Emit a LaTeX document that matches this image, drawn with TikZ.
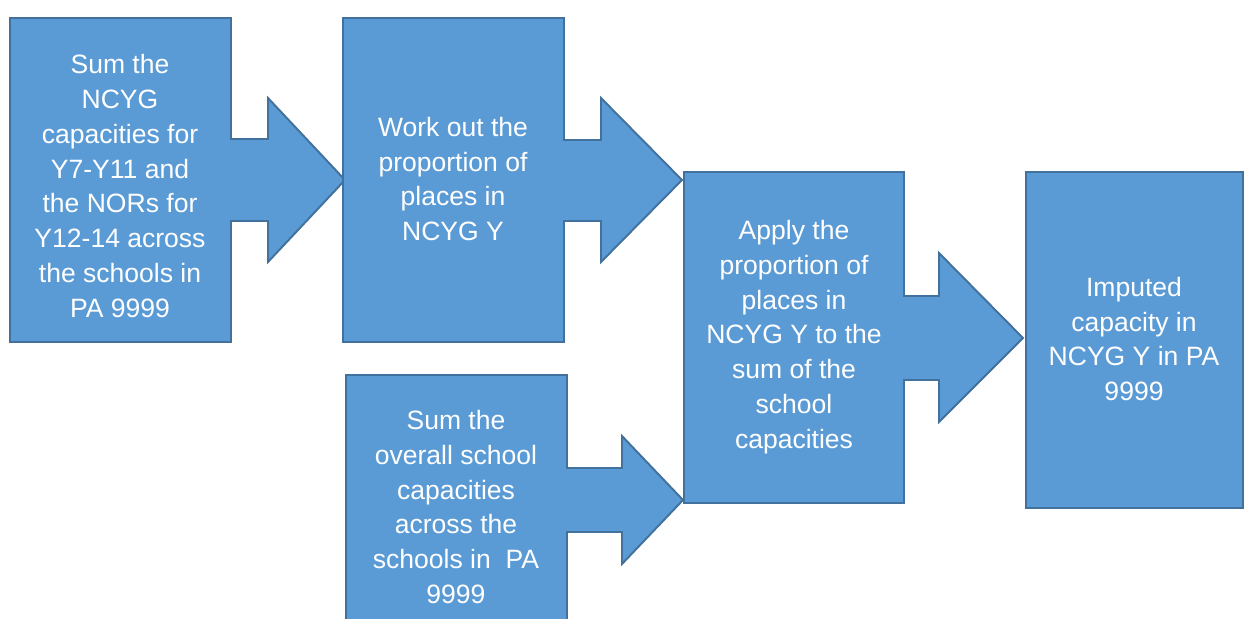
\documentclass[tikz,border=0pt]{standalone}
\usepackage{fontspec}
\setmainfont{Liberation Sans}
\definecolor{boxfill}{HTML}{5B9BD5}
\definecolor{boxline}{HTML}{41719C}
\tikzset{
  shapebox/.style={fill=boxfill, draw=boxline, line width=1.1pt, line join=miter},
  boxtext/.style={text=white, align=center, inner sep=0pt,
    font=\fontsize{15.1}{19.8}\selectfont}
}
\begin{document}
\begin{tikzpicture}[x=0.02cm, y=-0.02cm]
\useasboundingbox (0,0) rectangle (1245,619);
\fill[white] (0,0) rectangle (1245,619);
\begin{scope}
\clip (0,0) rectangle (1245,619);
% shape 1
\draw[shapebox] (10,18) -- (231,18) -- (231,139) -- (268,139) -- (268,98) -- (345,180)
  -- (268,262) -- (268,221) -- (231,221) -- (231,342) -- (10,342) -- cycle;
% shape 2
\draw[shapebox] (343,18) -- (564,18) -- (564,140) -- (601,140) -- (601,98) -- (682,180)
  -- (601,262) -- (601,221) -- (564,221) -- (564,342) -- (343,342) -- cycle;
% shape 3
\draw[shapebox] (346,375) -- (567,375) -- (567,468) -- (622,468) -- (622,436) -- (683,500)
  -- (622,564) -- (622,532) -- (567,532) -- (567,632) -- (346,632) -- cycle;
% shape 4
\draw[shapebox] (684,172) -- (904,172) -- (904,296) -- (939,296) -- (939,253) -- (1023,338)
  -- (939,422) -- (939,380) -- (904,380) -- (904,503) -- (684,503) -- cycle;
% shape 5
\draw[shapebox] (1026,172) rectangle (1243,508);
\end{scope}
\node[boxtext] (t1) at (120,186) {Sum the\\NCYG\\capacities for\\Y7-Y11 and\\the NORs for\\Y12-14 across\\the schools in\\PA 9999};
\node[boxtext] (t2) at (453,179) {Work out the\\proportion of\\places in\\NCYG Y};
\node[boxtext] (t3) at (456,507) {Sum the\\overall school\\capacities\\across the\\schools in\ \ PA\\9999};
\node[boxtext] (t4) at (794,337) {Apply the\\proportion of\\places in\\NCYG Y to the\\sum of the\\school\\capacities};
\node[boxtext] (t5) at (1134,339) {Imputed\\capacity in\\NCYG Y in PA\\9999};
\end{tikzpicture}
\end{document}
